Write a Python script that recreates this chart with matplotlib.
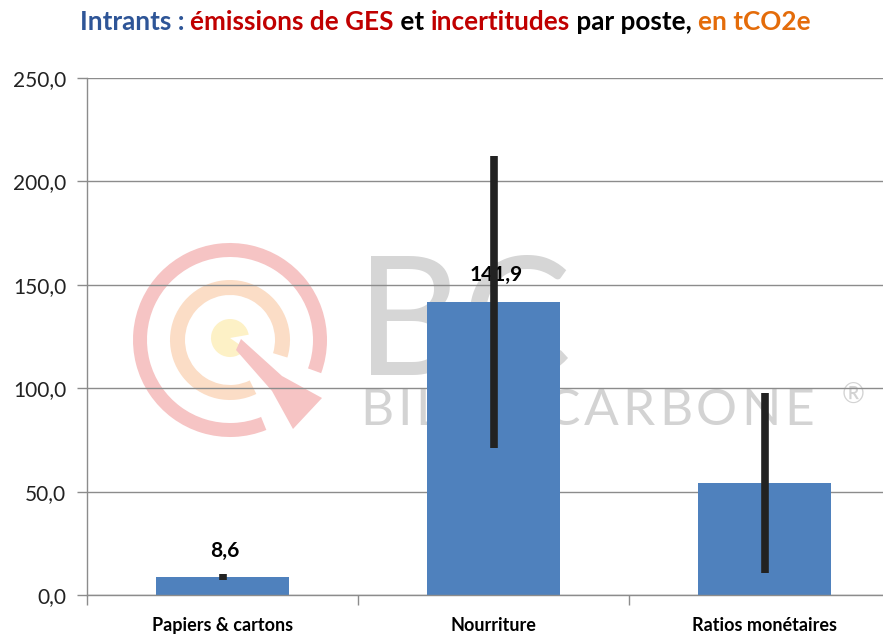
import matplotlib
matplotlib.use('Agg')
import matplotlib.pyplot as plt
from matplotlib.patches import Wedge, Polygon
from matplotlib.ticker import FixedLocator, FuncFormatter

# Data
categories = ['Papiers & cartons', 'Nourriture', 'Ratios monétaires']
values = [8.6, 141.9, 54.1]
uncertainty = [1.5, 70.6, 43.6]
shown_labels = ['8,6', '141,9', '']

title_parts = [('Intrants : ', '#2E5597'),
               ('émissions de GES', '#C00000'),
               (' et ', '#000000'),
               ('incertitudes', '#C00000'),
               (' par poste, ', '#000000'),
               ('en tCO2e', '#E46C0A')]

plt.rcParams['font.family'] = ['Lato', 'DejaVu Sans']

W, H = 883, 635
fig = plt.figure(figsize=(W / 100, H / 100), dpi=100)
fig.canvas.draw()
renderer = fig.canvas.get_renderer()

# background axes in pixel coords for the watermark (y grows downwards)
bg = fig.add_axes([0, 0, 1, 1], zorder=0)
bg.set_xlim(0, W)
bg.set_ylim(H, 0)
bg.axis('off')

cx, cy = 230, 340
bg.add_patch(Wedge((cx, cy), 97, 68, 380, width=14, facecolor='#F6C4C4', edgecolor='none'))
bg.add_patch(Wedge((cx, cy), 60, 64, 377, width=15, facecolor='#FBDDC6', edgecolor='none'))
bg.add_patch(Wedge((cx, cy - 2), 19, 35, 350, facecolor='#FDF1C6', edgecolor='none'))
bg.add_patch(Polygon([(241, 339), (282, 376), (322, 398), (293, 429),
                      (272, 391), (236, 350)],
                     closed=True, facecolor='#F6C4C4', edgecolor='none'))
bg.text(356, 375, 'BC', fontsize=118, color='#D6D6D6', ha='left', va='baseline')

# spaced-out "BILAN CARBONE"
xpos = 360
for ch in 'BILAN CARBONE':
    t = bg.text(xpos, 425, ch, fontsize=37, color='#D3D3D3', ha='left', va='baseline')
    xpos += t.get_window_extent(renderer).width + 4
bg.text(842, 404, '®', fontsize=20, color='#D3D3D3', ha='left', va='baseline')

# main axes
ax = fig.add_axes([87 / W, 40 / H, 813 / W, 517 / H], zorder=1)
ax.set_facecolor('none')

x = list(range(len(categories)))
ax.bar(x, values, width=0.49, color='#4F81BD', zorder=2)
ax.errorbar(x, values, yerr=uncertainty, fmt='none', ecolor='#222222',
            elinewidth=5.5, capsize=0, zorder=4)

for xi, v, lab in zip(x, values, shown_labels):
    if lab:
        ax.text(xi + 0.01, v + 8, lab, ha='center', va='bottom', fontsize=15,
                fontweight='bold', color='#000000', zorder=3)

ax.set_xlim(-0.5, 2.5)
ax.set_ylim(0, 250)
ax.yaxis.set_major_locator(FixedLocator([0, 50, 100, 150, 200, 250]))
ax.yaxis.set_major_formatter(FuncFormatter(lambda v, p: f'{v:.1f}'.replace('.', ',')))
ax.grid(axis='y', color='#8C8C8C', linewidth=1, zorder=0)
ax.set_axisbelow(True)

ax.set_xticks(x)
ax.set_xticklabels(categories, fontsize=13, fontweight='bold')
ax.xaxis.set_minor_locator(FixedLocator([-0.5, 0.5, 1.5, 2.5]))
ax.tick_params(axis='x', which='major', length=0, pad=16)
ax.tick_params(axis='x', which='minor', length=7, color='#8C8C8C', width=1)
ax.tick_params(axis='y', length=7, color='#8C8C8C', width=1, labelsize=15,
               labelcolor='#222222', pad=8)

for s in ['top', 'right']:
    ax.spines[s].set_visible(False)
for s in ['left', 'bottom']:
    ax.spines[s].set_color('#8C8C8C')
    ax.spines[s].set_linewidth(1)

# multi-coloured title, laid out piece by piece
texts = []
for part, col in title_parts:
    t = fig.text(0, 1 - 30 / H, part, fontsize=18.8, fontweight='bold', color=col,
                 ha='left', va='baseline')
    texts.append(t)
widths = [t.get_window_extent(renderer).width for t in texts]
total = sum(widths)
xpos = 445 - total / 2
for t, w in zip(texts, widths):
    t.set_x(xpos / W)
    xpos += w

fig.savefig('out.png', dpi=100)
